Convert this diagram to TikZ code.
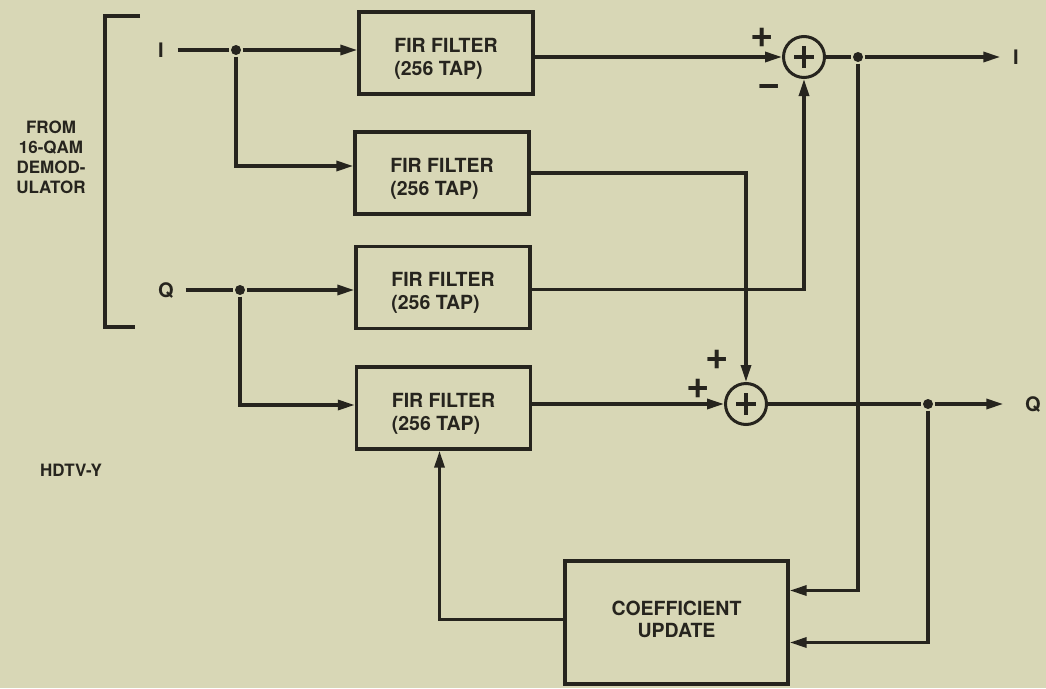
\documentclass[tikz,border=0pt]{standalone}
\usepackage{fontspec}
\setmainfont{TeX Gyre Heros}
\usetikzlibrary{arrows.meta,calc}
\definecolor{bg}{RGB}{216,215,182}
\definecolor{ink}{RGB}{38,36,30}
\newcommand{\firlabel}{\rule{0pt}{25pt}FIR FILTER\\(256 TAP)}
\begin{document}
\begin{tikzpicture}[x=1pt,y=-1pt, line width=3.2pt, draw=ink, text=ink,
  fir/.style={draw=ink, line width=3.4pt, minimum width=174pt, minimum height=82pt,
    font=\bfseries\fontsize{19.5}{23}\selectfont, align=left, inner sep=0pt},
  coefbox/.style={draw=ink, line width=3.4pt, minimum width=223pt, minimum height=123pt,
    font=\bfseries\fontsize{19.5}{22}\selectfont, align=center, inner sep=0pt,
    execute at end node={\rule[-7pt]{0pt}{0pt}}},
  sumnode/.style={circle, draw=ink, line width=3pt, minimum size=41pt, inner sep=0pt,
    path picture={\draw[ink, line width=3.6pt]
      ($(path picture bounding box.center)+(-10pt,0pt)$) -- ($(path picture bounding box.center)+(10pt,0pt)$)
      ($(path picture bounding box.center)+(0pt,-11pt)$) -- ($(path picture bounding box.center)+(0pt,11pt)$);}},
  arr/.style={-{Triangle[length=17pt,width=10pt]}},
  dot/.style={circle, fill=ink, inner sep=0pt, minimum size=10pt},
  lbl/.style={font=\bfseries\fontsize{20}{22}\selectfont},
  sign/.style={font=\bfseries\fontsize{40}{40}\selectfont, inner sep=0pt},
  side/.style={font=\bfseries\fontsize{17}{20}\selectfont, align=center}]

\fill[bg] (0,0) rectangle (1046,688);
\useasboundingbox (0,0) rectangle (1046,688);

% bracket
\draw[line width=3.4pt] (140,16) -- (105,16) -- (105,327) -- (135,327);

% side texts
\node[side] (from) at (51,157) {FROM\\16-QAM\\DEMOD-\\ULATOR};
\node[side] (hdtv) at (71,470) {HDTV-Y};

% filters
\node[fir] (b1) at (446,53) {\firlabel};
\node[fir] (b2) at (442,173) {\firlabel};
\node[fir] (b3) at (443,287.5) {\firlabel};
\node[fir] (b4) at (443.5,408) {\firlabel};
\node[coefbox] (cu) at (676.5,622.5) {COEFFICIENT\\UPDATE};

% summers
\node[sumnode] (s1) at (804,57) {};
\node[sumnode] (s2) at (746,404) {};

\node[sign] (p1) at (762,38) {+};
\node[sign] (m1) at (769,90) {\symbol{"2212}};
\node[sign] (p2) at (717,360) {+};
\node[sign] (p3) at (698,389) {+};

% inputs
\node[lbl] (li) at (161,50) {I};
\node[lbl] (lq) at (166,291) {Q};
\node[dot] (d1) at (236,50) {};
\node[dot] (d2) at (240,290) {};

\draw[shorten <=9pt] (li.east) -- (d1);
\draw[arr] (d1) -- (d1 -| b1.west);
\draw[arr] (d1) |- ($(b2.west)+(0,-7)$);

\draw[shorten <=7pt] (lq.east |- d2) -- (d2);
\draw[arr] (d2) -- (d2 -| b3.west);
\draw[arr] (d2) |- ($(b4.west)+(0,-3)$);

% filter outputs
\draw[arr] (s1 -| b1.east) -- (s1.west);
\draw[arr] ($(b3.east)+(0,2)$) -| (s1.south);
\draw[arr] (b2.east) -| (s2.north);
\draw[arr] (s2 -| b4.east) -- (s2.west);

% outputs
\node[dot] (d3) at (858,57) {};
\node[dot] (d4) at (928,404) {};
\node[lbl] (lo) at (1016,57) {I};
\node[lbl] (qo) at (1033,405) {Q};

\draw (s1.east) -- (d3);
\draw[arr, shorten >=8pt] (d3) -- (lo.west);
\draw (s2.east) -- (d4);
\draw[arr, shorten >=17pt] (d4) -- (qo.west |- d4);

% feedback to coefficient update
\draw[arr] (d3) |- ($(cu.east)+(0,-32)$);
\draw[arr] (d4) |- ($(cu.east)+(0,20)$);
\draw[arr] ($(cu.west)+(0,-3)$) -| ($(b4.south)+(-4,0)$);
\end{tikzpicture}
\end{document}
